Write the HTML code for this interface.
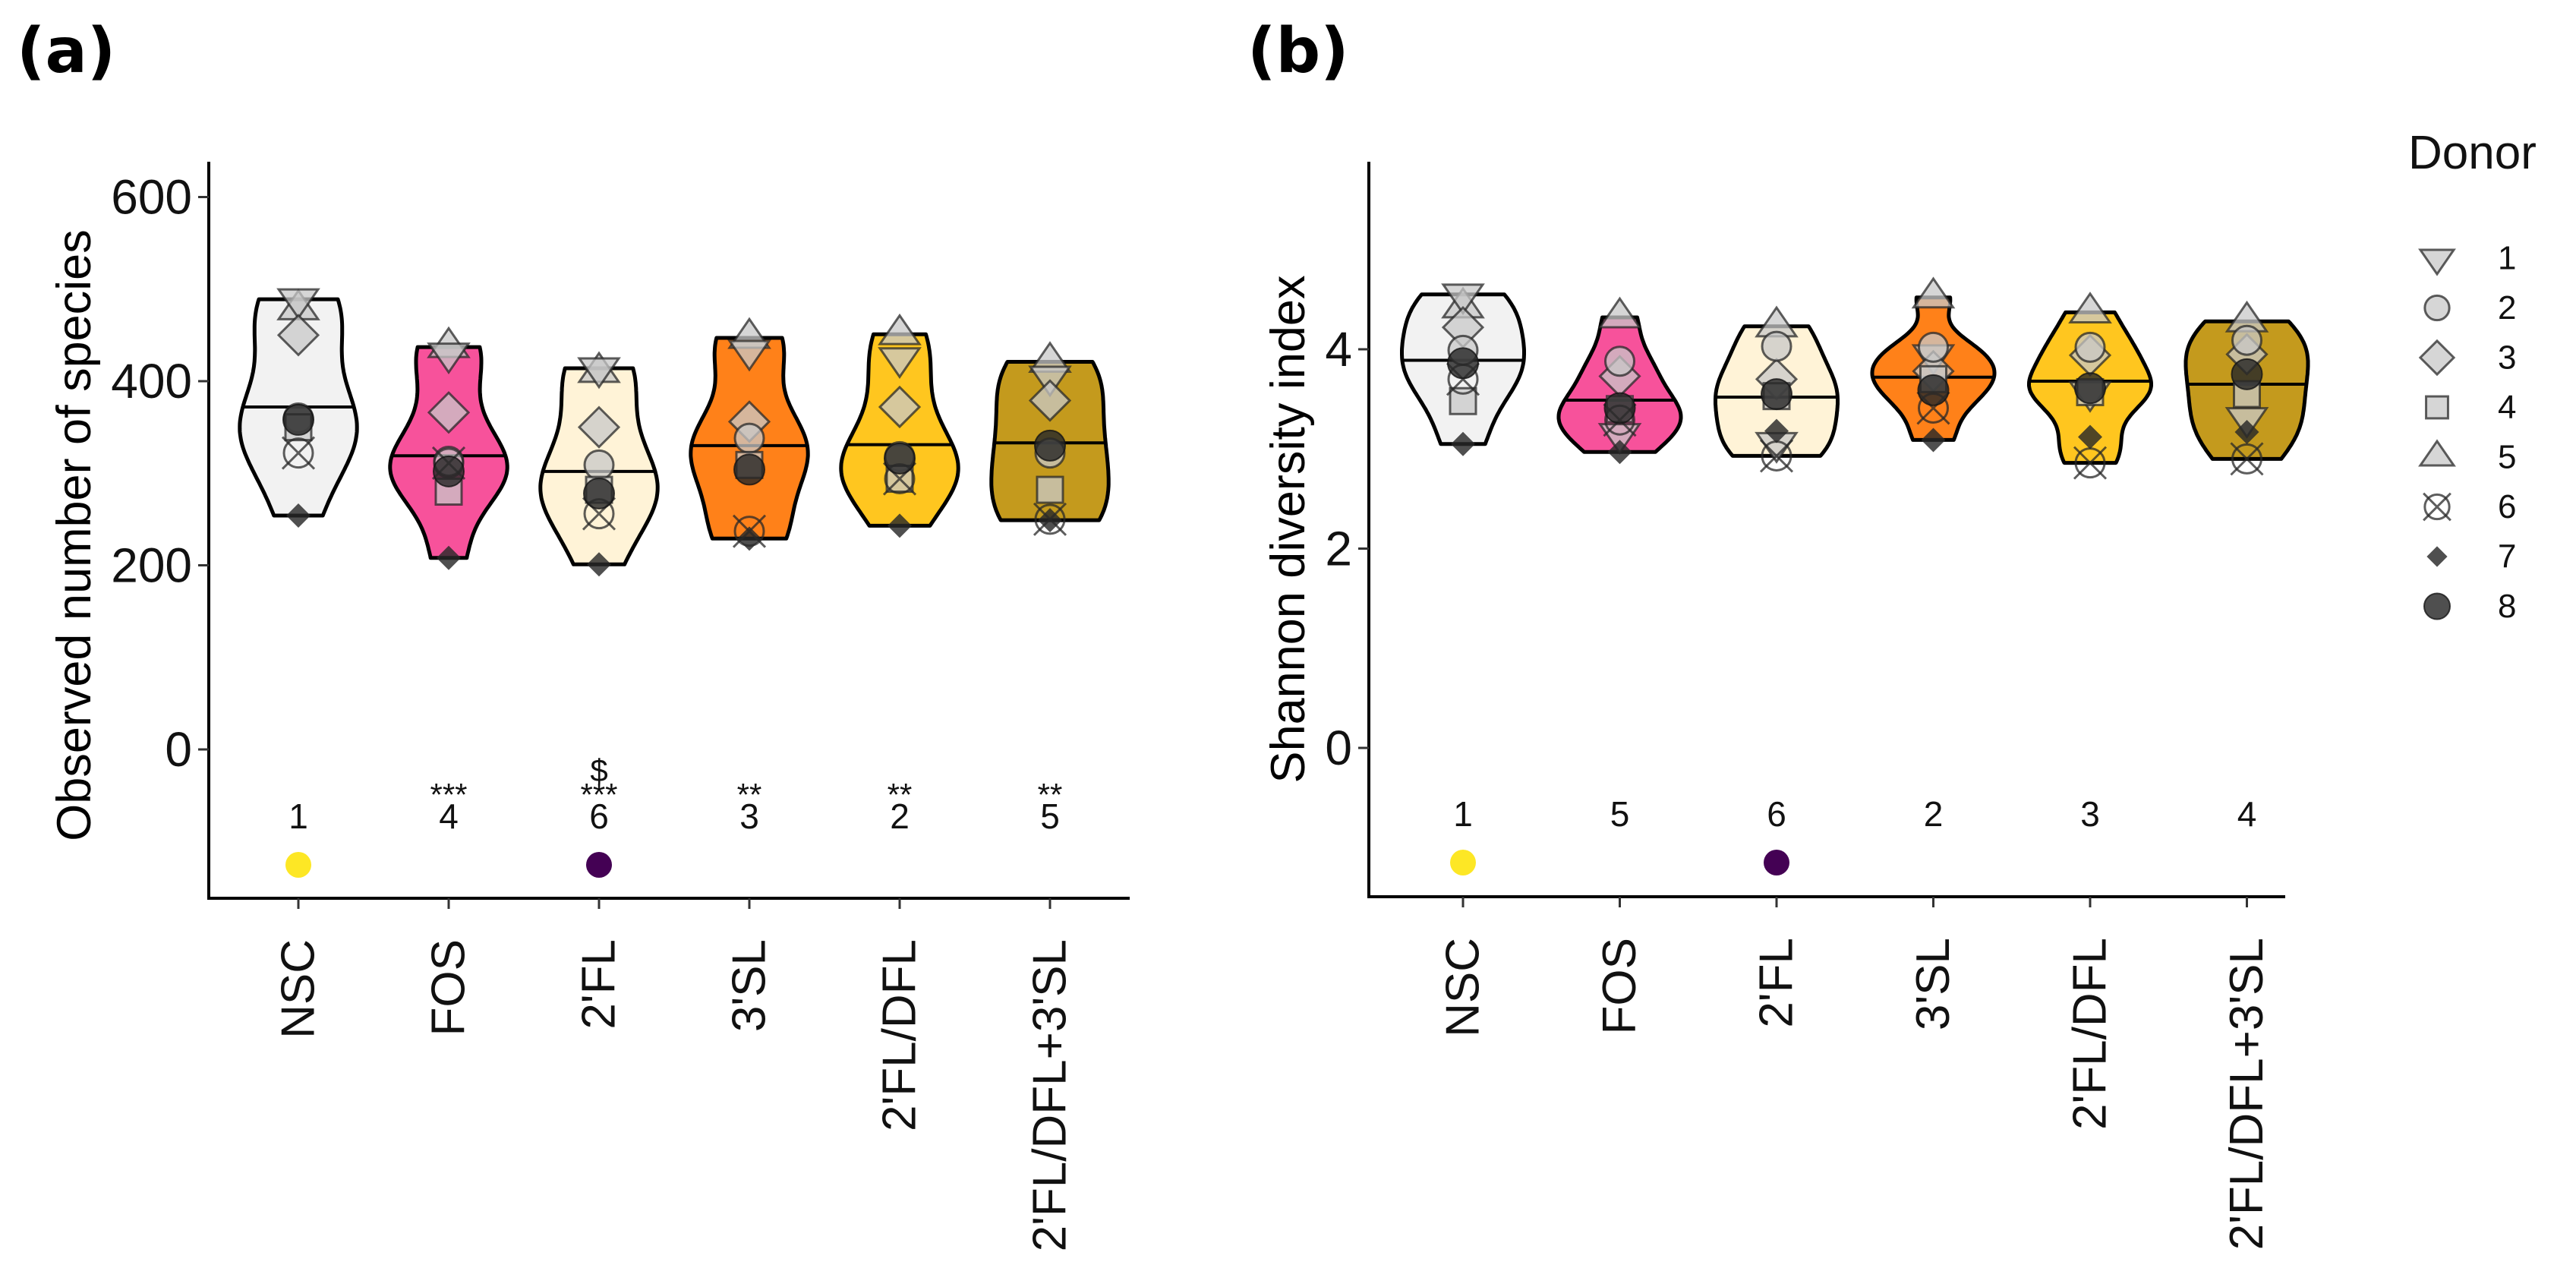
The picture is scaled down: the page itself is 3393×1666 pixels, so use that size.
<!DOCTYPE html>
<html>
<head>
<meta charset="utf-8">
<style>
  html,body{margin:0;padding:0;background:#fff;}
  svg{display:block;font-family:"Liberation Sans",Arial,sans-serif;}
</style>
</head>
<body>
<svg id="chart" width="3393" height="1666" viewBox="0 0 3393 1666" xmlns="http://www.w3.org/2000/svg">
  <rect x="0" y="0" width="3393" height="1666" fill="#fff"/>
  <text x="22" y="95" font-size="82" font-weight="bold" font-family="DejaVu Sans, Liberation Sans, sans-serif">(a)</text>
  <text x="1643" y="95" font-size="82" font-weight="bold" font-family="DejaVu Sans, Liberation Sans, sans-serif">(b)</text>
  <g id="panelA"></g>
  <g id="panelB"></g>
  <g id="legend"></g>
</svg>
<script>
// ---------- data ----------
const categories = ["NSC","FOS","2'FL","3'SL","2'FL/DFL","2'FL/DFL+3'SL"];
const fillColors = ["#f2f2f2","#f7529b","#fff3d7","#ff8119","#ffc61f","#c49a1d"];
const donors = [1,2,3,4,5,6,7,8];
// observed species per group, donors 1..8
const speciesNSC    = [489,360,450,350,478,322,254,358];
const speciesFOS    = [430,313,366,280,437,311,208,302];
const species2FL    = [414,309,350,282,410,256,201,278];
const species3SL    = [433,338,356,309,447,237,229,304];
const species2FLDFL = [425,318,372,294,451,294,243,316];
const speciesMix    = [405,322,379,282,421,250,249,330];
const speciesMedian = [372,319,302,330,331,333];
// shannon per group, donors 1..8
const shannonNSC    = [4.55,3.99,4.22,3.48,4.42,3.70,3.05,3.86];
const shannonFOS    = [3.15,3.88,3.73,3.40,4.32,3.29,2.97,3.41];
const shannon2FL    = [3.06,4.03,3.70,3.53,4.23,2.93,3.18,3.55];
const shannon3SL    = [3.94,4.02,3.78,3.70,4.52,3.41,3.09,3.59];
const shannon2FLDFL = [3.57,4.02,3.94,3.57,4.37,2.86,3.12,3.61];
const shannonMix    = [3.31,4.09,3.95,3.55,4.28,2.90,3.17,3.75];
const shannonMedian = [3.89,3.49,3.52,3.72,3.68,3.65];
const ticksA = [0,200,400,600];
const ticksB = [0,2,4];
const rankA = ["1","4","6","3","2","5"];
const rankB = ["1","5","6","2","3","4"];
const starsA = ["","***","***","**","**","**"];
const dollarA = ["","","$","","",""];
const dotColorsA = ["#fde725","","#440154","","",""];
const dotColorsB = ["#fde725","","#440154","","",""];

const seriesA = [speciesNSC,speciesFOS,species2FL,species3SL,species2FLDFL,speciesMix];
const seriesB = [shannonNSC,shannonFOS,shannon2FL,shannon3SL,shannon2FLDFL,shannonMix];

const NS = "http://www.w3.org/2000/svg";
function mk(tag, attrs, parent){
  const e = document.createElementNS(NS, tag);
  for (const k in attrs) e.setAttribute(k, attrs[k]);
  if (parent) parent.appendChild(e);
  return e;
}
function quantile(s, p){ const h=(s.length-1)*p, lo=Math.floor(h); return s[lo]+(s[Math.min(lo+1,s.length-1)]-s[lo])*(h-lo); }
function kde(vals){
  const n=vals.length, m=vals.reduce((a,b)=>a+b,0)/n;
  const sd=Math.sqrt(vals.reduce((a,b)=>a+(b-m)*(b-m),0)/(n-1));
  const s=[...vals].sort((a,b)=>a-b);
  const iqr=(quantile(s,0.75)-quantile(s,0.25))/1.34;
  let lo=Math.min(sd, iqr>0?iqr:sd);
  const bw=0.9*lo*Math.pow(n,-0.2);
  const ymin=s[0], ymax=s[n-1], pts=[];
  for(let i=0;i<=80;i++){
    const y=ymin+(ymax-ymin)*i/80;
    let d=0; for(const v of vals){ const z=(y-v)/bw; d+=Math.exp(-0.5*z*z); }
    pts.push([y,d]);
  }
  const dmax=Math.max(...pts.map(p=>p[1]));
  return pts.map(p=>[p[0],p[1]/dmax]);
}

function drawPoint(g, donor, cx, cy, sc){
  sc = sc || 1;
  const light="rgba(200,200,200,0.75)", stroke="rgba(40,40,40,0.75)", dark="rgba(40,40,40,0.82)";
  let el;
  if(donor===1){ const r=26*sc; el=mk("polygon",{points:`${cx-r},${cy-r*0.5} ${cx+r},${cy-r*0.5} ${cx},${cy+r*0.95}`,fill:light,stroke:stroke,"stroke-width":3},g); }
  else if(donor===2){ el=mk("circle",{cx:cx,cy:cy,r:19*sc,fill:light,stroke:stroke,"stroke-width":3},g); }
  else if(donor===3){ const r=26*sc; el=mk("polygon",{points:`${cx},${cy-r} ${cx+r},${cy} ${cx},${cy+r} ${cx-r},${cy}`,fill:light,stroke:stroke,"stroke-width":3},g); }
  else if(donor===4){ const h=17*sc; el=mk("rect",{x:cx-h,y:cy-h,width:2*h,height:2*h,fill:light,stroke:stroke,"stroke-width":3},g); }
  else if(donor===5){ const r=26*sc; el=mk("polygon",{points:`${cx-r},${cy+r*0.5} ${cx+r},${cy+r*0.5} ${cx},${cy-r*0.95}`,fill:light,stroke:stroke,"stroke-width":3},g); }
  else if(donor===6){ el=mk("g",{},g); const r=19*sc, q=21*sc;
    mk("circle",{cx:cx,cy:cy,r:r,fill:"none",stroke:stroke,"stroke-width":3},el);
    mk("path",{d:`M${cx-q},${cy-q}L${cx+q},${cy+q}M${cx+q},${cy-q}L${cx-q},${cy+q}`,stroke:stroke,"stroke-width":3},el); }
  else if(donor===7){ const r=16*sc; el=mk("polygon",{points:`${cx},${cy-r} ${cx+r},${cy} ${cx},${cy+r} ${cx-r},${cy}`,fill:dark},g); }
  else { el=mk("circle",{cx:cx,cy:cy,r:20*sc,fill:dark,stroke:"rgba(20,20,20,0.8)","stroke-width":2},g); }
  return el;
}

function drawPanel(cfg){
  const g=document.getElementById(cfg.id);
  const y=v=>cfg.y0-(v-cfg.v0)*cfg.scale;
  const x=i=>cfg.x0+i*cfg.step;
  const yAxis=mk("line",{x1:cfg.axisX,y1:cfg.axisTop,x2:cfg.axisX,y2:cfg.axisBottom+2,stroke:"#000","stroke-width":4},g);
  
  
  const xAxis=mk("line",{x1:cfg.axisX-2,y1:cfg.axisBottom,x2:cfg.axisRight,y2:cfg.axisBottom,stroke:"#000","stroke-width":4},g);
  
  
  cfg.ticks.forEach(t=>{
    const tk=mk("line",{x1:cfg.axisX-14,x2:cfg.axisX,y1:y(t),y2:y(t),stroke:"#333","stroke-width":3},g);
    
    
    const tl=mk("text",{x:cfg.axisX-22,y:y(t),"text-anchor":"end","dominant-baseline":"central","font-size":64,fill:"#111"},g);
    tl.textContent=String(t);
    
    
  });
  const title=mk("text",{transform:`translate(${cfg.titleX},${cfg.titleY}) rotate(-90)`,"text-anchor":"middle","dominant-baseline":"central","font-size":63,fill:"#000"},g);
  title.textContent=cfg.title;
  
  
  const halfW=cfg.step*0.39;
  categories.forEach((c,i)=>{
    const cx=x(i);
    const tk=mk("line",{x1:cx,x2:cx,y1:cfg.axisBottom,y2:cfg.axisBottom+14,stroke:"#333","stroke-width":3},g);
    
    
    const xl=mk("text",{transform:`translate(${cx},${cfg.axisBottom+54}) rotate(-90)`,"text-anchor":"end","dominant-baseline":"central","font-size":62,fill:"#111"},g);
    xl.textContent=c;
    
    
    const dens=kde(cfg.series[i]);
    let d="";
    dens.forEach((p,k)=>{ d+=(k?"L":"M")+(cx+p[1]*halfW).toFixed(1)+","+y(p[0]).toFixed(1); });
    for(let k=dens.length-1;k>=0;k--){ d+="L"+(cx-dens[k][1]*halfW).toFixed(1)+","+y(dens[k][0]).toFixed(1); }
    d+="Z";
    const vg=mk("path",{d:d,fill:fillColors[i],stroke:"#000","stroke-width":5,"stroke-linejoin":"round"},g);
    
    
    const med=cfg.medians[i];
    let w=0; for(let k=1;k<dens.length;k++){ if(dens[k][0]>=med){ const a=dens[k-1],b=dens[k]; const f=(med-a[0])/((b[0]-a[0])||1); w=a[1]+(b[1]-a[1])*f; break; } }
    const ml=mk("line",{x1:cx-w*halfW,x2:cx+w*halfW,y1:y(med),y2:y(med),stroke:"#000","stroke-width":4},g);
    
    
    const order=[4,0,2,1,3,5,6,7];
    order.forEach(k=>{
      const p=drawPoint(g,donors[k],cx,y(cfg.series[i][k]));
      
      
    });
    const rl=mk("text",{x:cx,y:cfg.rankY,"text-anchor":"middle","font-size":46,fill:"#111"},g);
    rl.textContent=cfg.ranks[i];
    
    
    if(cfg.stars && cfg.stars[i]){
      const st=mk("text",{x:cx,y:cfg.rankY-30,"text-anchor":"middle","font-size":42,fill:"#111"},g);
      st.textContent=cfg.stars[i];
      
      
    }
    if(cfg.dollar && cfg.dollar[i]){
      const ds=mk("text",{x:cx,y:cfg.rankY-62,"text-anchor":"middle","font-size":42,fill:"#111"},g);
      ds.textContent=cfg.dollar[i];
      
      
    }
    if(cfg.dots[i]){
      const dt=mk("circle",{cx:cx,cy:cfg.dotY,r:17,fill:cfg.dots[i]},g);
      
      
    }
  });
}

drawPanel({id:"panelA",series:seriesA,medians:speciesMedian,ticks:ticksA,v0:0,y0:987,scale:242.5/200,
  x0:393,step:198,axisX:275,axisTop:213,axisBottom:1183,axisRight:1488,
  title:"Observed number of species",titleX:98,titleY:705,
  ranks:rankA,stars:starsA,dollar:dollarA,dots:dotColorsA,rankY:1091,dotY:1139});
drawPanel({id:"panelB",series:seriesB,medians:shannonMedian,ticks:ticksB,v0:0,y0:985,scale:262.5/2,
  x0:1927,step:206.5,axisX:1803,axisTop:213,axisBottom:1181,axisRight:3010,
  title:"Shannon diversity index",titleX:1697,titleY:697,
  ranks:rankB,stars:null,dollar:null,dots:dotColorsB,rankY:1088,dotY:1136});

// legend
const lg=document.getElementById("legend");
const lt=mk("text",{x:3172,y:222,"font-size":62,fill:"#111"},lg);
lt.textContent="Donor";


donors.forEach((dn,k)=>{
  const cy=340+k*65.5;
  const s=drawPoint(lg,dn,3210,cy,0.85);
  
  
  const t=mk("text",{x:3290,y:cy,"dominant-baseline":"central","font-size":44,fill:"#111"},lg);
  t.textContent=String(dn);
  
  
});
</script>
</body>
</html>
